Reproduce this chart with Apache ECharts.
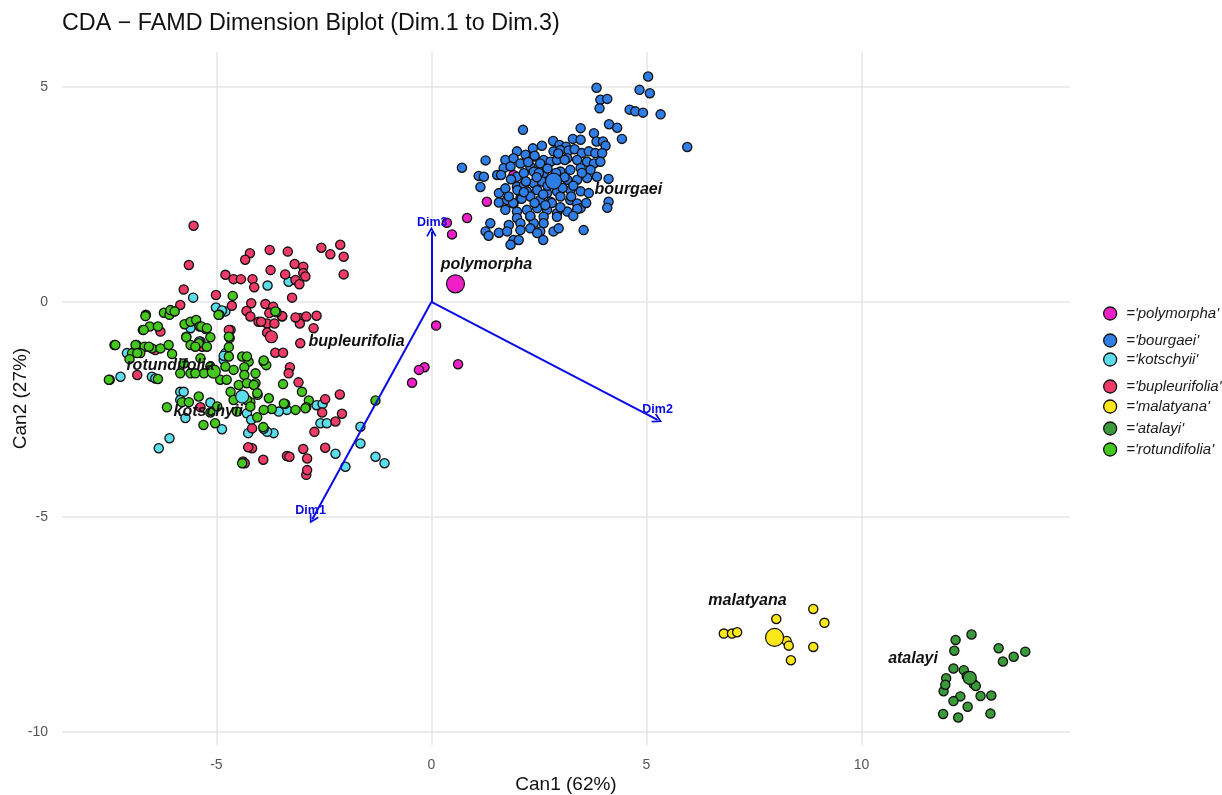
<!DOCTYPE html>
<html>
<head>
<meta charset="utf-8">
<script src="https://cdn.jsdelivr.net/npm/echarts@6/dist/echarts.min.js"></script>
<style>html,body{margin:0;padding:0;background:#fff;}#chart{width:1222px;height:795px;}</style>
</head>
<body>
<div id="chart"></div>
<script>
// ---------------- data ----------------
const categories = ['polymorpha','bourgaei','kotschyii','bupleurifolia','malatyana','atalayi','rotundifolia'];
const xTicks = [-5, 0, 5, 10];
const yTicks = [5, 0, -5, -10];

const polymorphaPts = [[1.29,2.33],[0.83,1.95],[0.36,1.84],[0.48,1.57],[0.11,-0.55],[0.62,-1.45],[-0.16,-1.52],[-0.29,-1.58],[-0.45,-1.88],[1.91,2.95]];

const bourgaeiPts = [
[5.04,5.24],[3.84,4.98],[4.84,4.93],[5.08,4.85],[3.93,4.70],[4.09,4.72],[3.91,4.50],[4.61,4.47],[4.74,4.43],[4.92,4.40],[5.33,4.36],[4.13,4.13],[4.32,4.05],[4.43,3.79],[5.95,3.60],[2.13,4.00],[3.47,4.04],[3.78,3.92],
[2.83,3.74],[3.29,3.79],[3.47,3.77],[3.84,3.73],[3.99,3.73],[2.98,3.65],[3.13,3.61],[4.05,3.63],[2.57,3.63],[2.36,3.57],
[1.99,3.50],[2.19,3.42],[2.38,3.38],[2.61,3.30],[2.84,3.50],[3.00,3.53],[3.19,3.52],[3.33,3.55],[3.50,3.46],[3.66,3.50],[3.81,3.46],[3.97,3.46],[1.26,3.29],[1.72,3.30],[1.91,3.34],
[1.68,3.11],[1.84,3.15],[2.07,3.22],[2.30,3.15],[2.53,3.22],[2.77,3.26],[2.92,3.30],[3.16,3.34],[3.39,3.30],[3.62,3.26],[3.78,3.22],[3.93,3.26],[1.53,2.95],
[0.71,3.12],[1.10,2.93],[1.22,2.91],[1.62,2.95],[1.99,2.91],[2.15,2.99],[2.38,3.03],[2.61,2.99],[3.00,3.03],[3.23,3.07],[3.47,3.11],[3.70,3.07],[3.85,2.91],[4.12,2.86],[1.14,2.67],
[1.99,2.68],[2.15,2.72],[2.38,2.76],[2.57,2.80],[3.16,2.84],[3.39,2.84],[3.62,2.88],[1.57,2.53],[1.72,2.64],[2.22,2.57],[2.46,2.60],[2.69,2.53],[2.92,2.57],[3.23,2.60],[3.47,2.57],[3.66,2.53],
[1.57,2.31],[1.76,2.37],[1.91,2.29],[2.07,2.41],[2.30,2.45],[2.53,2.37],[2.77,2.33],[3.00,2.45],[3.23,2.37],[3.39,2.29],[3.47,2.18],[4.12,2.33],[4.09,2.19],
[1.72,2.14],[1.99,2.10],[2.22,2.14],[2.46,2.18],[2.69,2.14],[2.92,2.06],[3.16,2.10],[3.39,2.16],[1.99,1.95],[2.30,1.98],[2.61,1.98],[2.92,1.98],
[1.37,1.83],[1.80,1.79],[2.07,1.83],[2.38,1.83],[2.61,1.83],[1.26,1.64],[1.33,1.54],[1.57,1.61],[1.76,1.64],[2.07,1.67],[2.30,1.71],[2.53,1.64],[2.84,1.64],[2.96,1.71],[3.54,1.67],[1.91,1.44],[2.03,1.44],[2.46,1.60],[2.60,1.44],[1.84,1.33],
[2.50,3.00],[2.70,3.10],[2.90,3.00],[3.10,2.90],[2.60,2.50],[2.40,2.30],[2.80,2.30],[3.00,2.20],[2.20,2.80],[2.00,2.60],[2.30,2.00],[2.70,2.70],[3.30,2.70],[3.50,3.00],[3.10,3.30],[2.40,3.40],[2.10,2.40],[1.90,2.30],[3.60,2.30],[3.30,2.00],
[2.45,2.90],[2.25,3.25],[2.85,2.85],[3.05,2.65],[1.85,2.85],[2.65,2.25],[3.25,2.45],[2.15,2.55],[1.80,2.45],[2.95,3.45]
];

const kotschyiiPts = [
[-5.54,0.10],[-5.01,-0.13],[-4.79,-0.22],[-4.87,-0.20],[-5.60,-0.61],[-3.81,0.38],[-3.32,0.47],
[-2.67,-2.40],[-2.58,-2.82],[-1.65,-2.90],[-1.65,-3.29],[-1.30,-3.60],[-1.09,-3.75],[-2.00,-3.83],[-3.36,-2.51],[-3.55,-2.55],[-3.67,-3.05],[-3.82,-3.02],[-2.23,-3.53],
[-7.08,-1.19],[-7.23,-1.74],[-6.50,-1.74],[-6.42,-1.78],[-5.37,-0.92],[-4.79,-1.19],[-4.83,-1.35],[-5.84,-2.09],[-5.76,-2.09],[-5.84,-2.28],[-5.72,-2.70],[-5.14,-2.34],[-4.87,-2.96],[-6.09,-3.17],[-6.34,-3.40],[-4.29,-2.59],[-4.19,-2.74],[-4.26,-3.05],[-4.83,-1.25],[-5.40,-0.92],[-2.43,-2.82],[-2.53,-2.37],[-3.90,-2.95]
];

const bupleurifoliaPts = [
[-5.53,1.77],[-5.64,0.86],[-4.22,1.13],[-4.33,0.98],[-4.79,0.63],[-4.60,0.53],[-4.43,0.53],[-4.16,0.53],[-4.12,0.34],[-5.76,0.29],[-5.01,0.16],[-5.84,-0.07],[-4.64,-0.09],[-4.19,-0.03],[-4.30,-0.21],[-4.21,-0.34],[-4.02,-0.46],[-4.67,-0.65],[-6.30,-0.69],
[-3.76,1.21],[-3.34,1.17],[-2.56,1.26],[-2.35,1.11],[-2.12,1.33],[-2.04,1.05],[-2.04,0.64],[-3.74,0.74],[-3.18,0.88],[-2.98,0.82],[-3.40,0.64],[-2.98,0.67],[-2.93,0.59],[-3.16,0.51],[-3.07,0.41],[-3.24,0.10],[-3.86,-0.05],[-3.68,-0.11],[-3.77,-0.26],[-3.47,-0.34],[-3.82,-0.50],[-3.65,-0.50],[-3.05,-0.38],[-2.91,-0.34],[-2.67,-0.32],[-3.06,-0.50],[-2.74,-0.61],[-3.82,-0.71],
[-3.05,-0.96],[-3.63,-1.18],[-3.45,-1.18],[-3.29,-1.52],[-3.32,-1.66],[-3.09,-1.87],[-2.47,-2.26],[-2.13,-2.15],[-2.54,-2.57],[-2.23,-2.78],[-2.08,-2.60],[-2.72,-3.02],[-2.47,-3.39],[-2.98,-3.42],[-2.89,-3.64],[-3.36,-3.58],[-3.30,-3.60],[-3.91,-3.67],[-4.17,-2.94],[-4.17,-3.40],
[-6.84,-1.70],[-5.33,-1.04],[-5.37,-2.45],[-4.26,-3.38],[-4.38,-3.71],[-4.34,-3.75],[-2.91,-4.02],[-2.89,-3.91],[-4.71,-0.65],[-6.42,-1.12],[-3.47,-0.33],[-3.16,-0.36],[-3.96,-0.46]
];

const malatyanaPts = [[6.80,-7.71],[6.99,-7.71],[7.11,-7.68],[8.02,-7.37],[8.26,-7.88],[8.31,-7.99],[8.36,-8.33],[8.88,-7.14],[9.14,-7.46],[8.88,-8.02]];

const atalayiPts = [[12.56,-7.73],[12.19,-7.86],[12.16,-8.11],[13.19,-8.05],[13.54,-8.25],[13.81,-8.13],[13.29,-8.36],[12.14,-8.52],[12.38,-8.56],[11.97,-8.75],[12.45,-8.70],[12.61,-8.88],[12.66,-8.93],[11.91,-9.05],[12.77,-9.16],[13.02,-9.15],[12.30,-9.17],[12.14,-9.28],[12.47,-9.41],[13.00,-9.57],[11.90,-9.58],[12.25,-9.66],[11.95,-8.90]];

const rotundifoliaPts = [
[-4.62,0.14],[-6.64,-0.30],[-6.22,-0.25],[-6.09,-0.30],[-5.98,-0.22],[-4.93,-0.30],[-6.71,-0.65],[-6.55,-0.57],[-6.36,-0.57],[-5.74,-0.52],[-5.60,-0.46],[-5.47,-0.42],[-5.39,-0.57],[-5.25,-0.63],[-4.69,-0.84],[-5.70,-0.81],
[-3.60,-0.24],
[-1.30,-2.29],[-3.01,-2.09],[-2.85,-2.29],[-2.91,-2.45],[-3.16,-2.51],[-3.45,-1.91],[-3.90,-1.39],[-3.84,-1.47],[-4.09,-1.89],[-4.04,-2.16],[-3.78,-2.24],[-3.40,-2.37],[-3.71,-2.49],[-3.90,-2.51],[-4.05,-2.68],[-3.91,-2.91],[-4.21,-2.33],
[-7.37,-1.00],[-6.86,-1.00],[-6.67,-1.04],[-6.50,-1.08],[-6.30,-1.08],[-6.11,-1.00],[-6.03,-1.21],[-6.96,-1.19],[-6.77,-1.19],[-7.02,-1.33],[-5.70,-0.82],[-5.60,-1.00],[-5.41,-0.96],[-5.14,-0.82],[-5.22,-1.04],[-5.37,-1.31],[-5.76,-1.43],[-5.14,-1.50],[-5.29,-1.66],[-5.84,-1.66],[-5.60,-1.66],[-5.49,-1.66],[-7.48,-1.81],[-6.36,-1.79],[-4.91,-1.81],[-4.76,-1.81],[-4.71,-1.27],[-4.79,-1.50],[-4.60,-1.58],[-4.40,-1.27],[-4.25,-1.39],[-4.35,-1.52],[-4.35,-1.70],[-4.09,-1.66],[-4.67,-2.09],[-4.48,-1.93],[-4.29,-1.89],[-4.13,-1.93],[-4.05,-2.12],[-4.29,-2.28],[-4.60,-2.28],[-4.52,-2.55],[-4.21,-2.43],[-4.71,-0.81],[-4.71,-1.05],[-5.41,-2.20],[-6.15,-2.45],[-5.80,-2.33],[-5.64,-2.33],[-5.14,-2.57],[-5.30,-2.86],[-5.03,-2.82],[-4.98,-2.43],[-6.69,-0.65],[-4.40,-3.75],
[-6.65,-0.33],[-6.07,-0.19],[-5.97,-0.22],[-5.35,-0.57],[-5.22,-0.61],[-5.49,-1.04],[-6.88,-1.00],[-6.57,-1.04],[-6.84,-1.19],[-4.95,-0.30],[-3.63,-0.22],[-4.29,-1.27],[-3.90,-1.36],[-2.93,-2.47],[-3.43,-2.36],[-7.50,-1.81],[-7.35,-1.00]
];

// group centroids (category order)
const centroidX = [0.56, 2.84, -4.40, -3.72, 7.98, 12.52, -5.06];
const centroidY = [0.42, 2.81, -2.20, -0.81, -7.80, -8.74, -1.62];
// group label anchors (category order)
const labelX = [1.28, 4.58, -5.19, -1.74, 7.35, 11.20, -6.07];
const labelY = [0.86, 2.60, -2.56, -0.93, -6.95, -8.28, -1.49];

// loading arrows
const arrowNames = ['Dim1', 'Dim2', 'Dim3'];
const arrowEndX = [-2.77, 5.26, 0.00];
const arrowEndY = [-5.05, -2.74, 1.63];
const arrowLabelX = [-2.81, 5.26, 0.02];
const arrowLabelY = [-4.84, -2.51, 1.84];

// ---------------- styles ----------------
const colors = {
  polymorpha: '#F01FC8', bourgaei: '#2F7DE6', kotschyii: '#5CDDEB', bupleurifolia: '#EF3B68',
  malatyana: '#FDE619', atalayi: '#3A9A3A', rotundifolia: '#45C81E'
};
const centroidSize = [18, 16, 13, 12, 18, 13, 13];
const legendCenterY = [313, 340, 359, 386, 406, 428, 449];
const FONT = '"Liberation Sans", Arial, Helvetica, sans-serif';
const ARROW_BLUE = '#0A0AE6';

const pointsByCat = {
  polymorpha: polymorphaPts, bourgaei: bourgaeiPts, kotschyii: kotschyiiPts, bupleurifolia: bupleurifoliaPts,
  malatyana: malatyanaPts, atalayi: atalayiPts, rotundifolia: rotundifoliaPts
};

const series = [];
// gridlines via markLine on a dummy series
series.push({
  type: 'scatter', name: '_grid', data: [], silent: true, z: 1,
  markLine: {
    silent: true, symbol: ['none', 'none'], z: 1, animation: false,
    label: { show: false },
    lineStyle: { color: '#E6E6E6', width: 1.5, type: 'solid', opacity: 1 },
    emphasis: { disabled: true },
    data: xTicks.map(v => ({ xAxis: v })).concat(yTicks.map(v => ({ yAxis: v })))
  }
});

categories.forEach(cat => {
  series.push({
    type: 'scatter', name: cat, data: pointsByCat[cat], z: 5,
    symbol: 'circle', symbolSize: 9.2,
    itemStyle: { color: colors[cat], borderColor: '#111', borderWidth: 1.3, opacity: 1 },
    emphasis: { disabled: true }
  });
});

// arrows
series.push({
  type: 'lines', coordinateSystem: 'cartesian2d', name: '_arrows', z: 7, silent: true,
  polyline: false,
  symbol: ['none', 'path://M5,0 L10,8.5 L8.7,9.6 L5,3.2 L1.3,9.6 L0,8.5 Z'],
  symbolSize: [10, 10],
  lineStyle: { color: ARROW_BLUE, width: 2, opacity: 1, curveness: 0 },
  itemStyle: { color: ARROW_BLUE, opacity: 1 },
  data: arrowNames.map((n, i) => ({ coords: [[0, 0], [arrowEndX[i], arrowEndY[i]]] }))
});
series.push({
  type: 'scatter', name: '_arrowLabels', z: 8, silent: true, symbolSize: 1,
  itemStyle: { color: 'rgba(0,0,0,0)', opacity: 1 },
  label: { show: true, position: 'inside', opacity: 1, formatter: p => p.data[2], color: ARROW_BLUE, fontSize: 12.5, fontWeight: 'bold', fontFamily: FONT },
  data: arrowNames.map((n, i) => [arrowLabelX[i], arrowLabelY[i], n])
});

// centroids
categories.forEach((cat, i) => {
  series.push({
    type: 'scatter', name: '_c_' + cat, z: 9, silent: true,
    symbol: 'circle', symbolSize: centroidSize[i],
    itemStyle: { color: colors[cat], borderColor: '#111', borderWidth: 1.2, opacity: 1 },
    data: [[centroidX[i], centroidY[i]]]
  });
});
// group labels
series.push({
  type: 'scatter', name: '_labels', z: 10, silent: true, symbolSize: 1,
  itemStyle: { color: 'rgba(0,0,0,0)', opacity: 1 },
  label: { show: true, position: 'inside', opacity: 1, formatter: p => p.data[2], color: '#111', fontSize: 16, fontWeight: 'bold', fontStyle: 'italic', fontFamily: FONT },
  data: categories.map((c, i) => [labelX[i], labelY[i], c])
});

const legends = categories.map((cat, i) => ({
  show: true, orient: 'vertical', left: 1103, top: legendCenterY[i] - 7, padding: 0,
  itemWidth: 22, itemHeight: 13, icon: 'circle', selectedMode: false,
  textStyle: { fontSize: 15, fontStyle: 'italic', color: '#1a1a1a', fontFamily: FONT },
  formatter: n => "='" + n + "'",
  data: [{ name: cat, itemStyle: { color: colors[cat], borderColor: '#111', borderWidth: 1.3 } }]
}));

const option = {
  animation: false,
  backgroundColor: '#ffffff',
  title: {
    text: 'CDA \u2212 FAMD Dimension Biplot (Dim.1 to Dim.3)',
    left: 57, top: 7,
    textStyle: { fontSize: 23.3, fontWeight: 'normal', color: '#111', fontFamily: FONT }
  },
  legend: legends,
  grid: { left: 62, right: 152, top: 52, bottom: 50, containLabel: false, outerBoundsMode: 'none' },
  xAxis: {
    type: 'value', min: -8.59, max: 14.85,
    name: 'Can1 (62%)', nameLocation: 'middle', nameGap: 30, nameMoveOverlap: false,
    nameTextStyle: { fontSize: 19, color: '#111', fontFamily: FONT },
    axisLine: { show: false }, axisTick: { show: false, customValues: xTicks },
    splitLine: { show: false },
    axisLabel: { customValues: xTicks, margin: 13, fontSize: 14, color: '#555', fontFamily: FONT }
  },
  yAxis: {
    type: 'value', min: -10.30, max: 5.81,
    name: 'Can2 (27%)', nameLocation: 'middle', nameGap: 32, nameMoveOverlap: false,
    nameTextStyle: { fontSize: 19, color: '#111', fontFamily: FONT },
    axisLine: { show: false }, axisTick: { show: false, customValues: yTicks },
    splitLine: { show: false },
    axisLabel: { customValues: yTicks, margin: 14, fontSize: 14, color: '#555', fontFamily: FONT }
  },
  series: series
};

const chart = echarts.init(document.getElementById('chart'), null, { renderer: 'canvas' });
chart.setOption(option);
</script>
</body>
</html>
